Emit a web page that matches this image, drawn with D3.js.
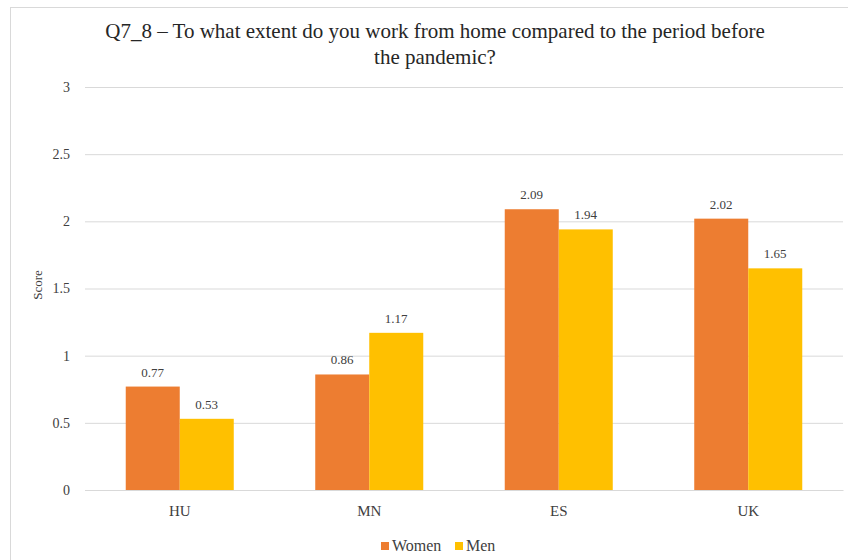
<!DOCTYPE html>
<html>
<head>
<meta charset="utf-8">
<script src="https://cdn.jsdelivr.net/npm/d3@7"></script>
<style>
  html, body { margin: 0; padding: 0; background: #fff; }
  svg { display: block; font-family: "Liberation Serif", "Times New Roman", serif; }
</style>
</head>
<body>
<svg id="chart" width="848" height="560"></svg>
<script>
// Mean scores by country and gender
const categories = ["HU", "MN", "ES", "UK"];
const seriesNames = ["Women", "Men"];
const women = [0.77, 0.86, 2.09, 2.02];
const men = [0.53, 1.17, 1.94, 1.65];
const yTicks = [0, 0.5, 1, 1.5, 2, 2.5, 3];
const colors = ["#ED7D31", "#FFC000"];

const rows = categories.map((c, i) => ({ cat: c, values: [women[i], men[i]] }));

const svg = d3.select("#chart");
const W = 848, H = 560;
const margin = { left: 85, right: 5, top: 87, bottom: 70 };
const plotW = W - margin.left - margin.right;
const plotH = H - margin.top - margin.bottom;

// chart frame
svg.append("rect")
  .attr("x", 10.5).attr("y", 7.5)
  .attr("width", 860).attr("height", 600)
  .attr("fill", "none").attr("stroke", "#d9d9d9").attr("stroke-width", 1);

const g = svg.append("g").attr("transform", `translate(${margin.left},${margin.top})`);

const x0 = d3.scaleBand().domain(categories).range([0, plotW]).paddingInner(0.43).paddingOuter(0.215);
const x1 = d3.scaleBand().domain(seriesNames).range([0, x0.bandwidth()]);
const y = d3.scaleLinear().domain([0, 3]).range([plotH, 0]);

// horizontal gridlines
const yAxis = d3.axisLeft(y).tickValues(yTicks).tickSize(-plotW).tickPadding(15).tickFormat(d => String(d));
const ya = g.append("g").call(yAxis);
ya.select(".domain").remove();
ya.selectAll(".tick line").attr("stroke", "#d9d9d9").attr("stroke-width", 1);
ya.selectAll(".tick text").attr("font-size", 14).attr("fill", "#404040")
  .attr("font-family", "Liberation Serif, Times New Roman, serif");

// bars
const groups = g.selectAll(".grp").data(rows).enter().append("g")
  .attr("transform", d => `translate(${x0(d.cat)},0)`);

groups.selectAll("rect").data(d => d.values.map((v, i) => ({ v, i })))
  .enter().append("rect")
  .attr("x", d => x1(seriesNames[d.i]))
  .attr("width", x1.bandwidth())
  .attr("y", d => y(d.v))
  .attr("height", d => plotH - y(d.v))
  .attr("fill", d => colors[d.i]);

groups.selectAll("text").data(d => d.values.map((v, i) => ({ v, i })))
  .enter().append("text")
  .attr("x", d => x1(seriesNames[d.i]) + x1.bandwidth() / 2)
  .attr("y", d => y(d.v) - 10)
  .attr("text-anchor", "middle")
  .attr("font-size", 13)
  .attr("fill", "#404040")
  .text(d => d.v.toFixed(2));

// x axis baseline and category labels
const xAxis = d3.axisBottom(x0).tickSize(0).tickPadding(15);
const xa = g.append("g").attr("transform", `translate(0,${plotH})`).call(xAxis);
xa.select(".domain").attr("stroke", "#d9d9d9");
xa.selectAll(".tick text").attr("font-size", 15).attr("fill", "#404040")
  .attr("font-family", "Liberation Serif, Times New Roman, serif");

// y axis title
svg.append("text")
  .attr("transform", "translate(42,285) rotate(-90)")
  .attr("text-anchor", "middle")
  .attr("font-size", 13)
  .attr("fill", "#404040")
  .text("Score");

// chart title
const title = svg.append("text").attr("text-anchor", "middle").attr("font-size", 21).attr("fill", "#262626");
title.append("tspan").attr("x", 435).attr("y", 38)
  .text("Q7_8 – To what extent do you work from home compared to the period before");
title.append("tspan").attr("x", 435).attr("y", 64).text("the pandemic?");

// legend
const legend = svg.append("g").attr("transform", "translate(381,546)");
const items = [{ name: seriesNames[0], x: 0 }, { name: seriesNames[1], x: 74 }];
items.forEach((it, i) => {
  legend.append("rect").attr("x", it.x).attr("y", -4).attr("width", 8).attr("height", 8).attr("fill", colors[i]);
  legend.append("text").attr("x", it.x + 11).attr("y", 5).attr("font-size", 16).attr("fill", "#404040").text(it.name);
});
</script>
</body>
</html>
